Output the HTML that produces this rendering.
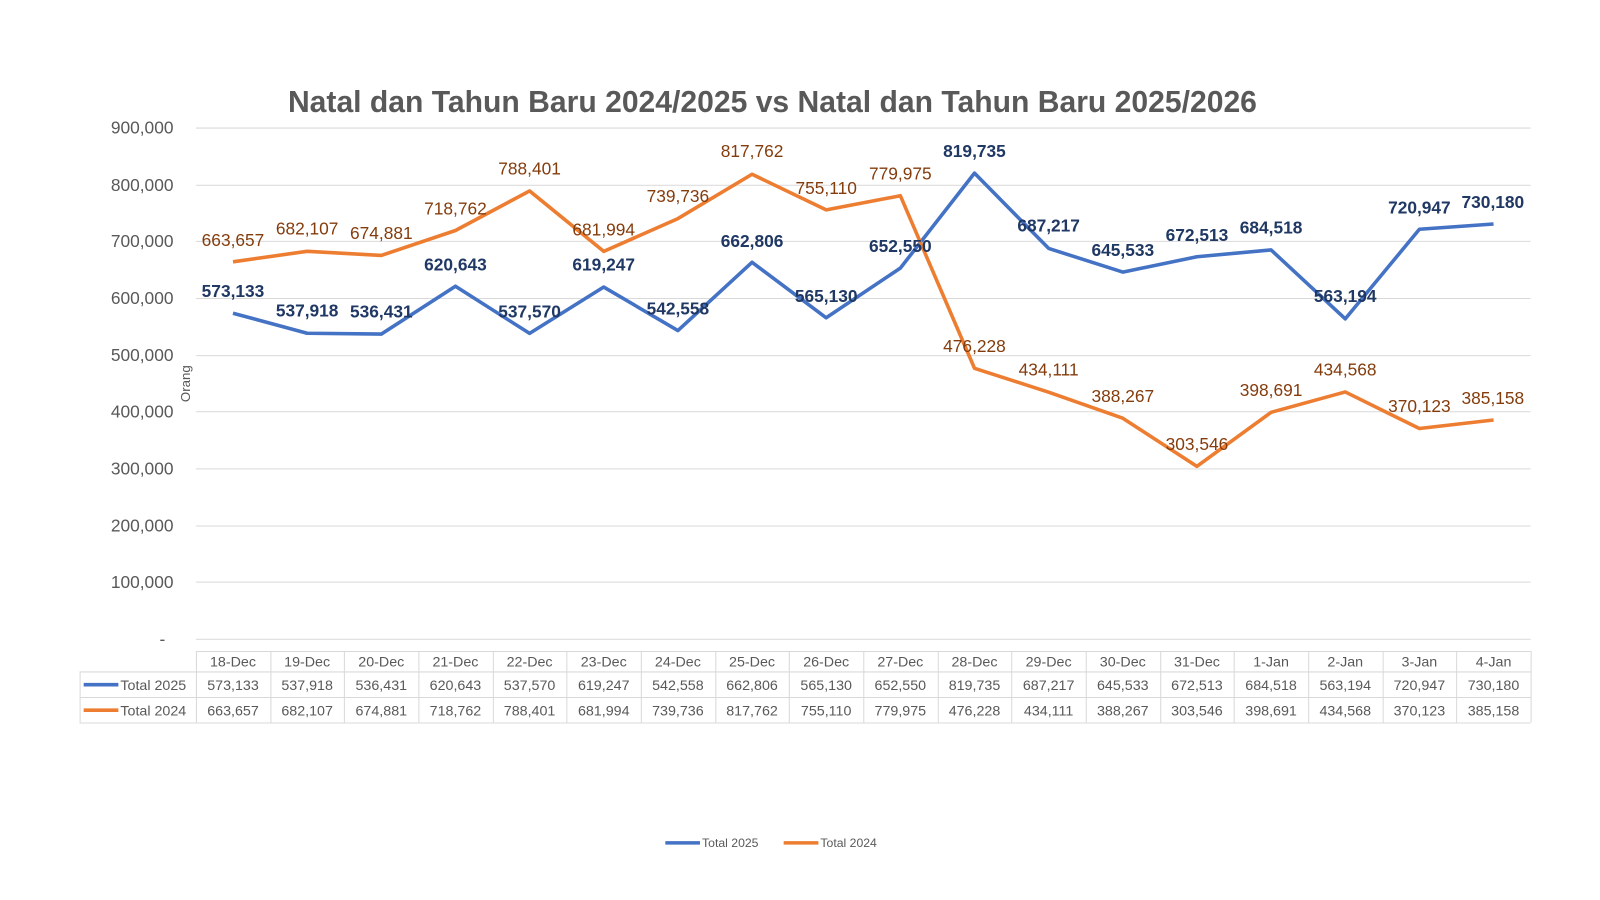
<!DOCTYPE html>
<html><head><meta charset="utf-8"><style>
body{margin:0;background:#fff}
svg{display:block;font-family:"Liberation Sans",Calibri,sans-serif}
</style></head><body>
<svg width="1600" height="900" viewBox="0 0 1568 882" preserveAspectRatio="none" xmlns="http://www.w3.org/2000/svg">
<rect width="1568" height="882" fill="#fff"/>
<text x="757" y="110" text-anchor="middle" font-size="29.5" font-weight="bold" fill="#595959">Natal dan Tahun Baru 2024/2025 vs Natal dan Tahun Baru 2025/2026</text>
<g stroke="#d9d9d9" stroke-width="1">
<line x1="192" x2="1500" y1="125.5" y2="125.5"/><line x1="192" x2="1500" y1="181.5" y2="181.5"/><line x1="192" x2="1500" y1="236.5" y2="236.5"/><line x1="192" x2="1500" y1="292.5" y2="292.5"/><line x1="192" x2="1500" y1="348.5" y2="348.5"/><line x1="192" x2="1500" y1="403.5" y2="403.5"/><line x1="192" x2="1500" y1="459.5" y2="459.5"/><line x1="192" x2="1500" y1="515.5" y2="515.5"/><line x1="192" x2="1500" y1="570.5" y2="570.5"/><line x1="192" x2="1500" y1="626.5" y2="626.5"/>
</g>
<g font-size="17" fill="#595959" text-anchor="end">
<text x="170" y="131">900,000</text><text x="170" y="187">800,000</text><text x="170" y="242">700,000</text><text x="170" y="298">600,000</text><text x="170" y="354">500,000</text><text x="170" y="409">400,000</text><text x="170" y="465">300,000</text><text x="170" y="521">200,000</text><text x="170" y="576">100,000</text><text x="162" y="632">-</text>
</g>
<text transform="translate(186,376) rotate(-90)" text-anchor="middle" font-size="13" fill="#595959">Orang</text>
<g stroke="#d9d9d9" stroke-width="1" fill="none">
<line x1="192" x2="1500" y1="638.5" y2="638.5"/>
<line x1="78" x2="1500" y1="658.5" y2="658.5"/>
<line x1="78" x2="1500" y1="683.5" y2="683.5"/>
<line x1="78" x2="1500" y1="708.5" y2="708.5"/>
<line x1="78.5" x2="78.5" y1="658" y2="708"/>
<g id="vl"></g>
</g>
<g id="tbl" font-size="14" fill="#595959" text-anchor="middle"></g>
<text x="118" y="676" font-size="14" fill="#595959">Total 2025</text>
<text x="118" y="701" font-size="14" fill="#595959">Total 2024</text>
<line x1="82" x2="116" y1="671" y2="671" stroke="#4472C4" stroke-width="3.5"/>
<line x1="82" x2="116" y1="696" y2="696" stroke="#ED7D31" stroke-width="3.5"/>
<polyline id="pb" fill="none" stroke="#4472C4" stroke-width="3.5" stroke-linejoin="round"/>
<polyline id="po" fill="none" stroke="#ED7D31" stroke-width="3.5" stroke-linejoin="round"/>
<g id="lb" font-size="17" font-weight="bold" fill="#203864" text-anchor="middle"></g>
<g id="lo" font-size="17" fill="#843C0C" text-anchor="middle"></g>
<line x1="652" x2="686" y1="826" y2="826" stroke="#4472C4" stroke-width="3.5"/>
<text x="688" y="830" font-size="12" fill="#595959">Total 2025</text>
<line x1="768" x2="802" y1="826" y2="826" stroke="#ED7D31" stroke-width="3.5"/>
<text x="804" y="830" font-size="12" fill="#595959">Total 2024</text>
</svg>
<script>
var cats=["18-Dec","19-Dec","20-Dec","21-Dec","22-Dec","23-Dec","24-Dec","25-Dec","26-Dec","27-Dec","28-Dec","29-Dec","30-Dec","31-Dec","1-Jan","2-Jan","3-Jan","4-Jan"];
var b=[573133,537918,536431,620643,537570,619247,542558,662806,565130,652550,819735,687217,645533,672513,684518,563194,720947,730180];
var o=[663657,682107,674881,718762,788401,681994,739736,817762,755110,779975,476228,434111,388267,303546,398691,434568,370123,385158];
var bl=[285,304,305,259,305,259,302,236,290,241,148,221,245,230,223,290,203,198];
var ol=[235,224,228,204,165,225,192,148,184,170,339,362,388,435,382,362,398,390];
var w=1308/18,ns="http://www.w3.org/2000/svg";
function X(i){return 192+w/2+i*w}function Y(v){return 626-v*501/900000}
function f(v){return v.toLocaleString('en-US')}
function t(g,x,y,s){var e=document.createElementNS(ns,'text');e.setAttribute('x',x);e.setAttribute('y',y);e.textContent=s;document.getElementById(g).appendChild(e)}
var vl=document.getElementById('vl');
for(var i=0;i<=18;i++){var l=document.createElementNS(ns,'line');var x=Math.round(192+i*w)+.5;l.setAttribute('x1',x);l.setAttribute('x2',x);l.setAttribute('y1',638);l.setAttribute('y2',708);vl.appendChild(l)}
document.getElementById('pb').setAttribute('points',b.map(function(v,i){return X(i)+','+Y(v)}).join(' '));
document.getElementById('po').setAttribute('points',o.map(function(v,i){return X(i)+','+Y(v)}).join(' '));
for(var i=0;i<18;i++){var x=X(i);t('tbl',x,653,cats[i]);t('tbl',x,676,f(b[i]));t('tbl',x,701,f(o[i]));
t('lb',i==17?1463:x,bl[i]+6,f(b[i]));t('lo',i==17?1463:x,ol[i]+6,f(o[i]));}
</script>
</body></html>
